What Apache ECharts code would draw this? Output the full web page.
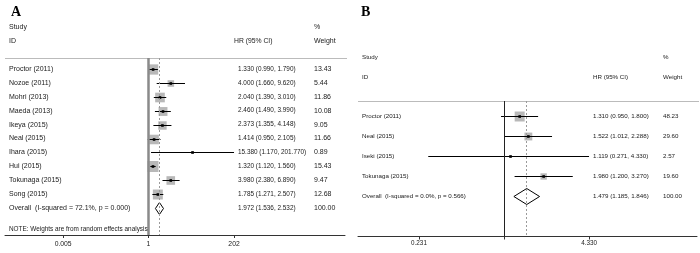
<!DOCTYPE html>
<html><head><meta charset="utf-8">
<script src="https://cdn.jsdelivr.net/npm/echarts@6/dist/echarts.min.js"></script>
<style>html,body{margin:0;padding:0;background:#fff}#c{width:700px;height:253px}</style>
</head><body><div id="c"></div>
<script>
// ---------- Panel A data ----------
const studiesA = ['Proctor (2011)','Nozoe (2011)','Mohri (2013)','Maeda (2013)','Ikeya (2015)','Neal (2015)','Ihara (2015)','Hui (2015)','Tokunaga (2015)','Song (2015)'];
const hrA     = [1.330, 4.000, 2.040, 2.460, 2.373, 1.414, 15.380, 1.320, 3.980, 1.785];
const lowA    = [0.990, 1.660, 1.390, 1.490, 1.355, 0.950, 1.170, 1.120, 2.380, 1.271];
const highA   = [1.790, 9.620, 3.010, 3.990, 4.148, 2.105, 201.770, 1.560, 6.890, 2.507];
const weightA = [13.43, 5.44, 11.86, 10.08, 9.05, 11.66, 0.89, 15.43, 9.47, 12.68];
const overallA = {hr: 1.972, low: 1.536, high: 2.532, weight: 100.00};
const overallLabelA = 'Overall  (I-squared = 72.1%, p = 0.000)';
const noteA = 'NOTE: Weights are from random effects analysis';
const tickValsA = [0.005, 1, 202];
const tickLabelsA = ['0.005', '1', '202'];

// ---------- Panel B data ----------
const studiesB = ['Proctor (2011)','Neal (2015)','Iseki (2015)','Tokunaga (2015)'];
const hrB     = [1.310, 1.522, 1.119, 1.980];
const lowB    = [0.950, 1.012, 0.271, 1.200];
const highB   = [1.800, 2.288, 4.330, 3.270];
const weightB = [48.23, 29.60, 2.57, 19.60];
const overallB = {hr: 1.479, low: 1.185, high: 1.846, weight: 100.00};
const overallLabelB = 'Overall  (I-squared = 0.0%, p = 0.566)';
const tickValsB = [0.231, 1, 4.330];
const tickLabelsB = ['0.231', '', '4.330'];

const L = Math.log10;
const FONT = 'Liberation Sans, Arial, sans-serif';
const TXT = '#1a1a1a';

function studyRender(boxScale) {
  return function (params, api) {
    const i = api.value(0), hr = api.value(1), lo = api.value(2), hi = api.value(3), w = api.value(4);
    const pc = api.coord([hr, i]), pl = api.coord([lo, i]), ph = api.coord([hi, i]);
    const y = Math.round(pc[1]) + 0.5;
    const s = boxScale * Math.sqrt(w);
    return {type: 'group', children: [
      {type: 'rect', shape: {x: pc[0] - s / 2, y: y - s / 2, width: s, height: s}, style: {fill: '#b8b8b8'}},
      {type: 'line', shape: {x1: pl[0], y1: y, x2: ph[0], y2: y}, style: {stroke: '#000', lineWidth: 1}},
      {type: 'rect', shape: {x: pc[0] - 1.3, y: y - 1.3, width: 2.6, height: 2.6}, style: {fill: '#000'}}
    ]};
  };
}
function diamondRender(halfH) {
  return function (params, api) {
    const i = api.value(0);
    const pc = api.coord([api.value(1), i]), pl = api.coord([api.value(2), i]), ph = api.coord([api.value(3), i]);
    const y = Math.round(pc[1]) + 0.5;
    return {type: 'polygon', shape: {points: [[pl[0], y], [pc[0], y - halfH], [ph[0], y], [pc[0], y + halfH]]},
      style: {fill: '#fff', stroke: '#000', lineWidth: 1}};
  };
}
function textRender(cols) {
  return function (params, api) {
    const i = api.value(0);
    const y = api.coord([0, i])[1];
    const row = params.dataIndex;
    const items = [];
    cols.forEach(c => {
      const t = c.texts[row];
      const size = (c.sizes && c.sizes[row]) || c.size;
      if (t) items.push({type: 'text', x: c.x, y: y, style: {text: t, fill: TXT, font: size + 'px ' + FONT, textVerticalAlign: 'middle', textAlign: 'left'}});
    });
    return {type: 'group', children: items};
  };
}
function fmtCI(h, l, u) { return h.toFixed(3) + ' (' + l.toFixed(3) + ', ' + u.toFixed(3) + ')'; }

// Panel A rows
const dataA = studiesA.map((s, i) => [i, L(hrA[i]), L(lowA[i]), L(highA[i]), weightA[i]]);
const ovIdxA = studiesA.length;
const namesA = studiesA.concat([overallLabelA, noteA]);
const nameSizesA = namesA.map((n, i) => i === namesA.length - 1 ? 6.4 : 7);
const ciA = studiesA.map((s, i) => fmtCI(hrA[i], lowA[i], highA[i])).concat([fmtCI(overallA.hr, overallA.low, overallA.high), '']);
const wA = weightA.map(w => w.toFixed(2)).concat([overallA.weight.toFixed(2), '']);
const textRowsA = namesA.map((n, i) => [i === namesA.length - 1 ? ovIdxA + 1.5 : i]);

// Panel B rows
const dataB = studiesB.map((s, i) => [i, L(hrB[i]), L(lowB[i]), L(highB[i]), weightB[i]]);
const ovIdxB = studiesB.length;
const namesB = studiesB.concat([overallLabelB]);
const ciB = studiesB.map((s, i) => fmtCI(hrB[i], lowB[i], highB[i])).concat([fmtCI(overallB.hr, overallB.low, overallB.high)]);
const wB = weightB.map(w => w.toFixed(2)).concat([overallB.weight.toFixed(2)]);
const textRowsB = namesB.map((n, i) => [i]);

function labelFor(vals, labels) {
  return v => { let k = 0, d = Infinity; vals.forEach((t, j) => { const e = Math.abs(L(t) - v); if (e < d) { d = e; k = j; } }); return labels[k]; };
}

const chart = echarts.init(document.getElementById('c'), null, {renderer: 'canvas'});
chart.setOption({
  animation: false,
  backgroundColor: '#fff',
  grid: [
    {left: 5, width: 340, top: 58, height: 177},
    {left: 358, width: 339, top: 101, height: 135.5}
  ],
  xAxis: [
    {gridIndex: 0, type: 'value', position: 'bottom', min: -3.868, max: 5.296, splitLine: {show: false},
     axisLine: {onZero: false, lineStyle: {color: '#333', width: 1}},
     axisTick: {show: true, length: 3, lineStyle: {color: '#333'}, customValues: tickValsA.map(L)},
     axisLabel: {customValues: tickValsA.map(L), formatter: labelFor(tickValsA, tickLabelsA), fontSize: 6.8, fontFamily: FONT, color: TXT, margin: 6}},
    {gridIndex: 1, type: 'value', position: 'bottom', min: -1.093, max: 1.4446, splitLine: {show: false},
     axisLine: {onZero: false, lineStyle: {color: '#333', width: 1}},
     axisTick: {show: true, length: 3, lineStyle: {color: '#333'}, customValues: tickValsB.map(L)},
     axisLabel: {customValues: [tickValsB[0], tickValsB[2]].map(L), formatter: labelFor(tickValsB, tickLabelsB), fontSize: 6.3, fontFamily: FONT, color: TXT, margin: 4}}
  ],
  yAxis: [
    {gridIndex: 0, type: 'value', inverse: true, min: -0.79, max: 11.94, show: false},
    {gridIndex: 1, type: 'value', inverse: true, min: -0.746, max: 5.995, show: false}
  ],
  series: [
    {type: 'custom', xAxisIndex: 0, yAxisIndex: 0, data: dataA, renderItem: studyRender(2.8), z: 3,
     markLine: {silent: true, symbol: 'none', label: {show: false}, animation: false, data: [
       {xAxis: L(1), lineStyle: {color: '#8a8a8a', width: 2.5, type: 'solid'}},
       {xAxis: L(overallA.hr), lineStyle: {color: '#9a9a9a', width: 1, type: [2, 2]}}
     ]}},
    {type: 'custom', xAxisIndex: 0, yAxisIndex: 0, data: [[ovIdxA, L(overallA.hr), L(overallA.low), L(overallA.high)]], renderItem: diamondRender(6), z: 4},
    {type: 'custom', xAxisIndex: 0, yAxisIndex: 0, data: textRowsA, z: 5,
     renderItem: textRender([{x: 9, texts: namesA, size: 7, sizes: nameSizesA}, {x: 238, texts: ciA, size: 6.4}, {x: 314, texts: wA, size: 7}])},
    {type: 'custom', xAxisIndex: 1, yAxisIndex: 1, data: dataB, renderItem: studyRender(1.44), z: 3,
     markLine: {silent: true, symbol: 'none', label: {show: false}, animation: false, data: [
       {xAxis: L(1), lineStyle: {color: '#222', width: 1, type: 'solid'}},
       {xAxis: L(overallB.hr), lineStyle: {color: '#9a9a9a', width: 1, type: [2, 2]}}
     ]}},
    {type: 'custom', xAxisIndex: 1, yAxisIndex: 1, data: [[ovIdxB, L(overallB.hr), L(overallB.low), L(overallB.high)]], renderItem: diamondRender(8), z: 4},
    {type: 'custom', xAxisIndex: 1, yAxisIndex: 1, data: textRowsB, z: 5,
     renderItem: textRender([{x: 362, texts: namesB, size: 6.2}, {x: 593, texts: ciB, size: 6.2}, {x: 663, texts: wB, size: 6.2}])}
  ],
  graphic: [
    {type: 'text', left: 11, top: 5, style: {text: 'A', font: 'bold 14px Liberation Serif, Times New Roman, serif', fill: '#000'}},
    {type: 'text', left: 361, top: 5, style: {text: 'B', font: 'bold 14px Liberation Serif, Times New Roman, serif', fill: '#000'}},
    {type: 'text', x: 9, y: 27, style: {text: 'Study', font: '7px ' + FONT, fill: TXT, textVerticalAlign: 'middle'}},
    {type: 'text', x: 9, y: 41, style: {text: 'ID', font: '7px ' + FONT, fill: TXT, textVerticalAlign: 'middle'}},
    {type: 'text', x: 234, y: 41, style: {text: 'HR (95% CI)', font: '6.8px ' + FONT, fill: TXT, textVerticalAlign: 'middle'}},
    {type: 'text', x: 314, y: 27, style: {text: '%', font: '7px ' + FONT, fill: TXT, textVerticalAlign: 'middle'}},
    {type: 'text', x: 314, y: 41, style: {text: 'Weight', font: '7px ' + FONT, fill: TXT, textVerticalAlign: 'middle'}},
    {type: 'line', shape: {x1: 5, y1: 58.5, x2: 347, y2: 58.5}, style: {stroke: '#bbb', lineWidth: 1}},
    {type: 'text', x: 362, y: 57, style: {text: 'Study', font: '6.2px ' + FONT, fill: TXT, textVerticalAlign: 'middle'}},
    {type: 'text', x: 362, y: 77, style: {text: 'ID', font: '6.2px ' + FONT, fill: TXT, textVerticalAlign: 'middle'}},
    {type: 'text', x: 593, y: 77, style: {text: 'HR (95% CI)', font: '6.2px ' + FONT, fill: TXT, textVerticalAlign: 'middle'}},
    {type: 'text', x: 663, y: 57, style: {text: '%', font: '6.2px ' + FONT, fill: TXT, textVerticalAlign: 'middle'}},
    {type: 'text', x: 663, y: 77, style: {text: 'Weight', font: '6.2px ' + FONT, fill: TXT, textVerticalAlign: 'middle'}},
    {type: 'line', shape: {x1: 358, y1: 101.5, x2: 699, y2: 101.5}, style: {stroke: '#bbb', lineWidth: 1}}
  ]
});
</script>
</body></html>
